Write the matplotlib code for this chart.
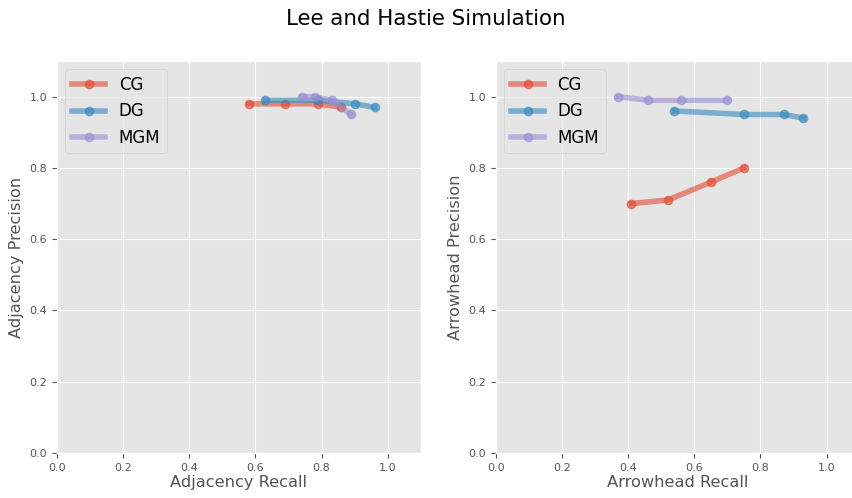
import matplotlib
matplotlib.use('Agg')
import matplotlib.pyplot as plt

plt.style.use('ggplot')

# adjacency (left panel)
adj_cg_recall = [0.58, 0.69, 0.79, 0.86]
adj_cg_prec = [0.98, 0.98, 0.98, 0.97]
adj_dg_recall = [0.63, 0.79, 0.90, 0.96]
adj_dg_prec = [0.99, 0.99, 0.98, 0.97]
adj_mgm_recall = [0.74, 0.78, 0.83, 0.89]
adj_mgm_prec = [1.00, 1.00, 0.99, 0.95]

# arrowhead (right panel)
arr_cg_recall = [0.41, 0.52, 0.65, 0.75]
arr_cg_prec = [0.70, 0.71, 0.76, 0.80]
arr_dg_recall = [0.54, 0.75, 0.87, 0.93]
arr_dg_prec = [0.96, 0.95, 0.95, 0.94]
arr_mgm_recall = [0.37, 0.46, 0.56, 0.70]
arr_mgm_prec = [1.00, 0.99, 0.99, 0.99]

colors = ['#E24A33', '#348ABD', '#988ED5']

fig = plt.figure(figsize=(8.52, 4.98), dpi=100)
ax1 = fig.add_axes([0.0669, 0.0904, 0.427, 0.787])
ax2 = fig.add_axes([0.582, 0.0904, 0.427, 0.787])

panels = [
    (ax1, [(adj_cg_recall, adj_cg_prec), (adj_dg_recall, adj_dg_prec), (adj_mgm_recall, adj_mgm_prec)],
     'Adjacency Recall', 'Adjacency Precision'),
    (ax2, [(arr_cg_recall, arr_cg_prec), (arr_dg_recall, arr_dg_prec), (arr_mgm_recall, arr_mgm_prec)],
     'Arrowhead Recall', 'Arrowhead Precision'),
]

for ax, series, xl, yl in panels:
    for (x, y), c, name in zip(series, colors, ['CG', 'DG', 'MGM']):
        ax.plot(x, y, '-o', color=c, lw=4, ms=6, alpha=0.6, label=name)
    ax.set_xlim(0, 1.1)
    ax.set_ylim(0, 1.1)
    ax.set_xticks([0, 0.2, 0.4, 0.6, 0.8, 1.0])
    ax.set_yticks([0, 0.2, 0.4, 0.6, 0.8, 1.0])
    ax.tick_params(labelsize=8)
    ax.set_xlabel(xl, fontsize=11.7, labelpad=2)
    ax.set_ylabel(yl, fontsize=11.7, labelpad=4)
    ax.legend(loc='upper left', fontsize=12)

fig.suptitle('Lee and Hastie Simulation', fontsize=15.4, y=0.982)

fig.savefig('out.png', dpi=100)
